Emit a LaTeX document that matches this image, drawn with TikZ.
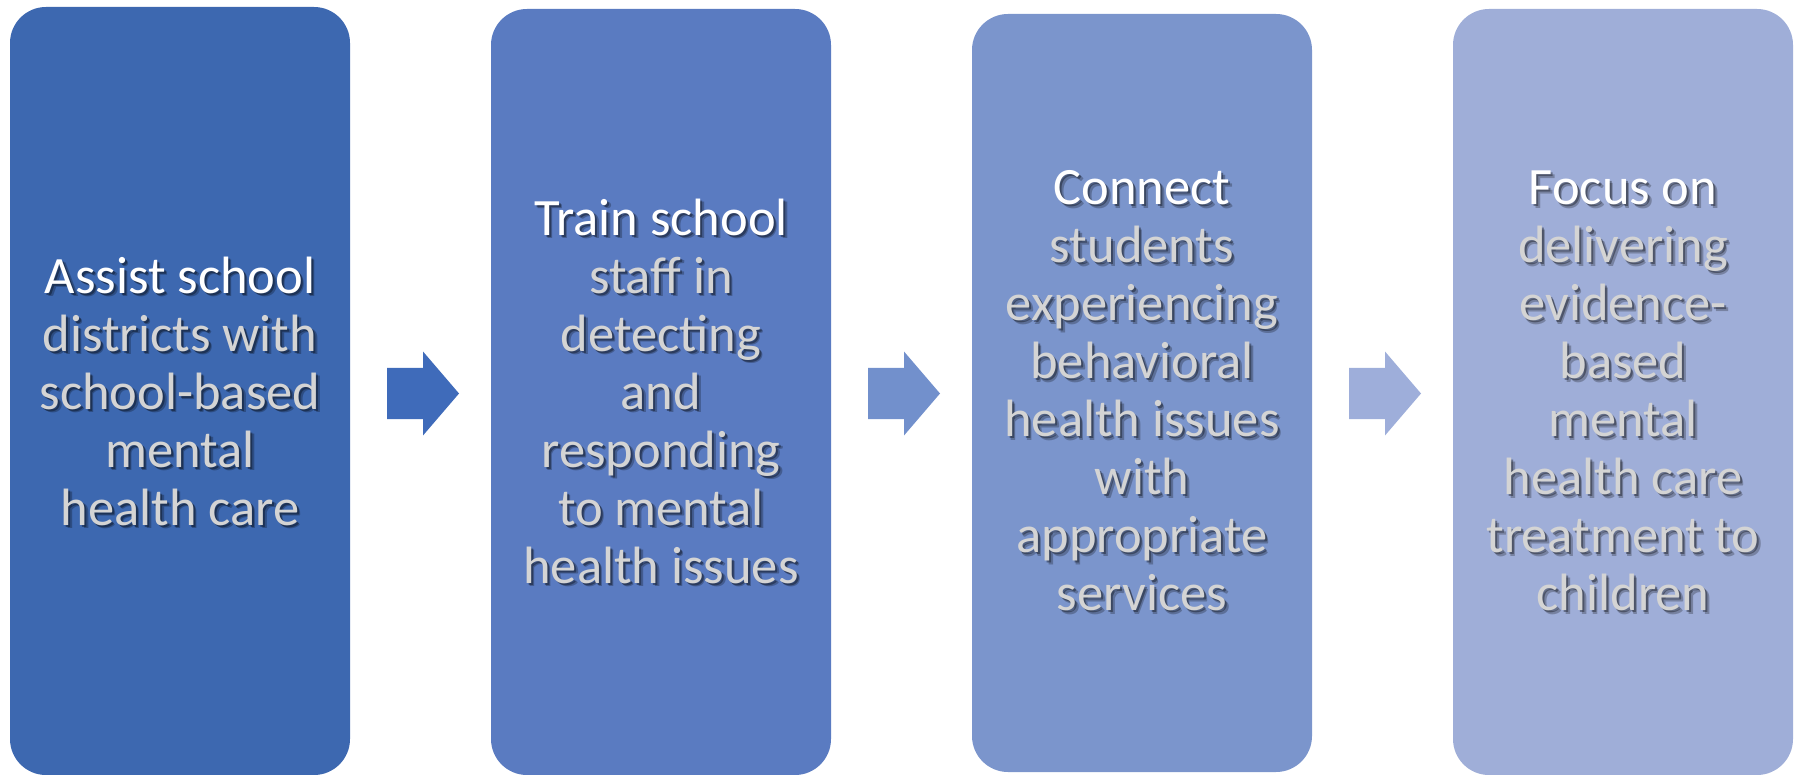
\documentclass[tikz,border=0pt]{standalone}
\usepackage{fontspec}
\setmainfont{Carlito}
\definecolor{boxA}{HTML}{3D68B0}
\definecolor{boxB}{HTML}{5A7BC1}
\definecolor{boxC}{HTML}{7B95CC}
\definecolor{boxD}{HTML}{9FAED8}
\definecolor{arrA}{HTML}{3F6BBA}
\definecolor{arrB}{HTML}{7290CC}
\definecolor{arrC}{HTML}{9EAEDA}
\definecolor{txtgray}{HTML}{D4D4D4}
\colorlet{firstc}{white}
\colorlet{restc}{txtgray}
\newcommand\Lf[1]{{\color{firstc}#1}}
\newcommand\Lr[1]{{\color{restc}#1}}
\tikzset{
  stagebox/.style={fill=#1, draw=none, rounded corners=36pt, minimum width=340pt, inner sep=0pt},
  stagetxt/.style={align=center, inner sep=0pt, font=\fontsize{52.5}{58}\selectfont},
  shadowtxt/.style={stagetxt, text opacity=#1,
     font=\fontsize{52.5}{58}\selectfont\colorlet{firstc}{black}\colorlet{restc}{black}},
  blockarrow/.pic={\fill[#1] (0,-12.75) -- (18,-12.75) -- (18,-21) -- (36,0) -- (18,21) -- (18,12.75) -- (0,12.75) -- cycle;}
}
\newcommand\stagetext[3]{%
  \node[shadowtxt=0.25] at ([shift={(3.5pt,-3.5pt)}]#2) {#3};
  \node[shadowtxt=0.35] at ([shift={(2pt,-2pt)}]#2) {#3};
  \node[stagetxt] (#1) at (#2) {#3};
}
\begin{document}
\begin{tikzpicture}[x=1pt,y=-1pt]
\useasboundingbox (0,0) rectangle (1799,775);
\node[stagebox=boxA, minimum height=768pt] (b1) at (180,391) {};
\node[stagebox=boxB, minimum height=766pt] (b2) at (661,392) {};
\node[stagebox=boxC, minimum height=758pt] (b3) at (1142,393) {};
\node[stagebox=boxD, minimum height=766pt] (b4) at (1623,392) {};

\coordinate (a1) at (387,393.5);
\coordinate (a2) at (868,393.5);
\coordinate (a3) at (1349,393.5);
\pic[scale=2] at (a1) {blockarrow=arrA};
\pic[scale=2] at (a2) {blockarrow=arrB};
\pic[scale=2] at (a3) {blockarrow=arrC};

\stagetext{t1}{180,391}{\Lf{Assist school}\\\Lr{districts with}\\\Lr{school-based}\\\Lr{mental}\\\Lr{health care}}
\stagetext{t2}{661,391}{\Lf{Train school}\\\Lr{staff in}\\\Lr{detecting}\\\Lr{and}\\\Lr{responding}\\\Lr{to mental}\\\Lr{health issues}}
\stagetext{t3}{1142,391}{\Lf{Connect}\\\Lr{students}\\\Lr{experiencing}\\\Lr{behavioral}\\\Lr{health issues}\\\Lr{with}\\\Lr{appropriate}\\\Lr{services}}
\stagetext{t4}{1623,391}{\Lf{Focus on}\\\Lr{delivering}\\\Lr{evidence-}\\\Lr{based}\\\Lr{mental}\\\Lr{health care}\\\Lr{treatment to}\\\Lr{children}}
\end{tikzpicture}
\end{document}
